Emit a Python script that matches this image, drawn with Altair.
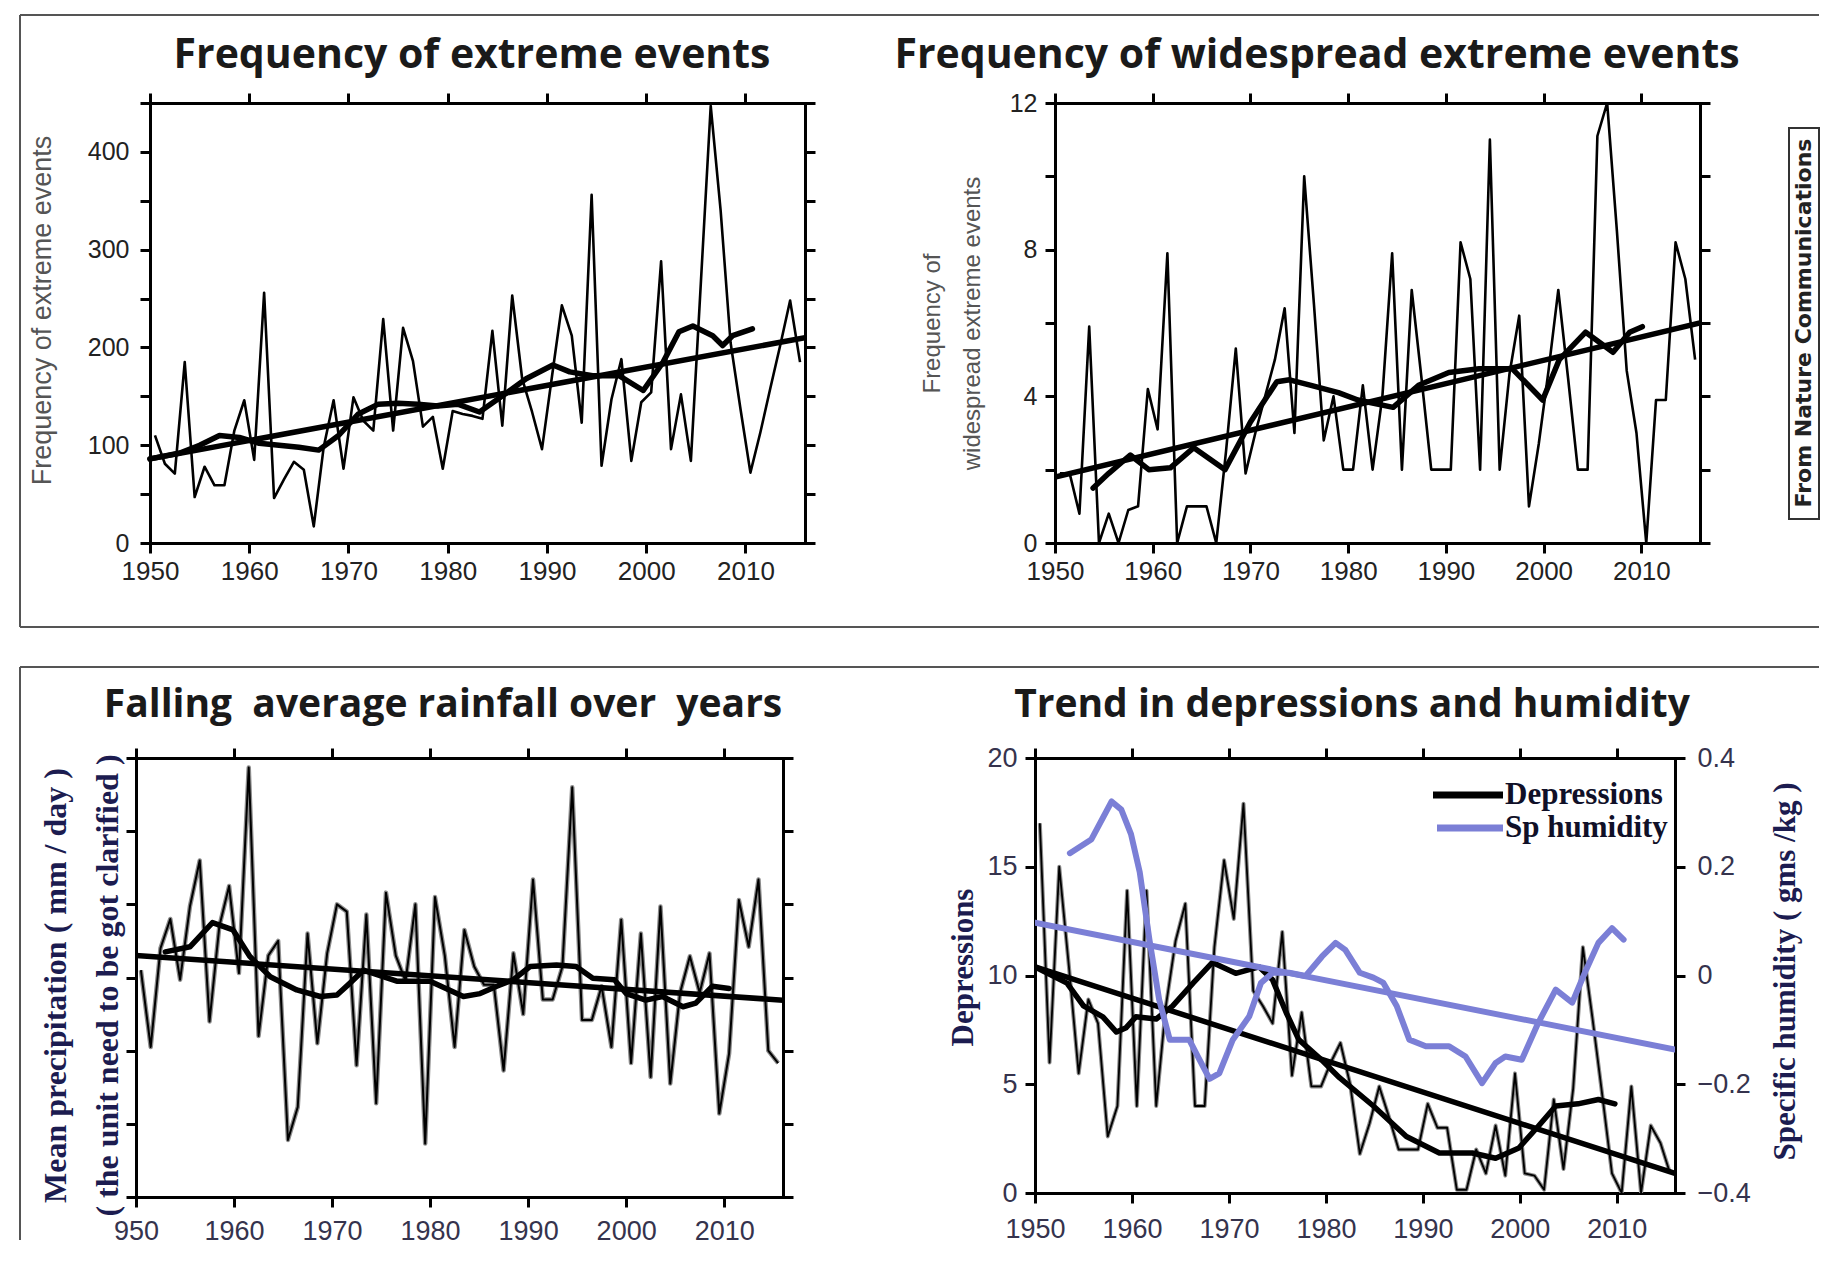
import altair as alt
import pandas as pd

# ---------------- shared values ----------------
YEARS = list(range(1950, 2016))
DECADES = [1950, 1960, 1970, 1980, 1990, 2000, 2010]
X_DOMAIN = [1950, 2016]

TITLES = [
    "Frequency of extreme events",
    "Frequency of widespread extreme events",
    "Falling \u00a0average rainfall over \u00a0years",
    "Trend in depressions and humidity",
]
SOURCE_NOTE = "From Nature Communications"
P1_YTITLE = "Frequency of extreme events"
P2_YTITLE = ["Frequency of", "widespread extreme events"]
P3_YTITLE = ["Mean precipitation ( mm / day )", "( the unit need to be got clarified )"]
P4_YTITLE_L = "Depressions"
P4_YTITLE_R = "Specific humidity ( gms /kg )"
LEGEND_LABELS = ["Depressions", "Sp humidity"]

# ---------------- panel 1: frequency of extreme events ----------------
p1_raw = [110, 81, 71, 185, 47, 78, 59, 59, 115, 146,
          85, 256, 46, 65, 83, 75, 17, 98, 146, 76,
          149, 125, 115, 229, 115, 220, 186, 119, 129, 76,
          135, 132, 130, 127, 217, 120, 253, 168, 134, 96,
          170, 243, 212, 123, 356, 79, 147, 188, 84, 144,
          154, 288, 96, 152, 84, 265, 447, 340, 205, 137,
          72, 113, 158, 202, 248, 185]
p1_smooth_x = [1950, 1953, 1955, 1957, 1959, 1961, 1963, 1965, 1967, 1969, 1971, 1973,
               1975, 1977, 1979, 1981, 1983.2, 1985.6, 1987.9, 1990.6, 1992.3, 1994.6,
               1997.3, 1999.7, 2001.7, 2003.3, 2004.7, 2006.7, 2007.7, 2008.7, 2010.7]
p1_smooth_y = [86, 92, 100, 110, 108, 102, 100, 98, 95, 110, 132, 142,
               143, 142, 140, 142, 134, 151, 168, 182, 175, 171,
               171, 156, 185, 216, 222, 212, 202, 212, 219]
p1_trend_x = [1950, 2016]
p1_trend_y = [86, 210]
P1_YTICKS = list(range(0, 451, 50))

# ---------------- panel 2: widespread extreme events ----------------
p2_raw = [1.9, 1.9, 0.8, 5.9, 0, 0.8, 0, 0.9, 1.0, 4.2,
          3.1, 7.9, 0, 1.0, 1.0, 1.0, 0, 2.5, 5.3, 1.9,
          3.0, 4.0, 5.0, 6.4, 3.0, 10.0, 6.5, 2.8, 4.0, 2.0,
          2.0, 4.3, 2.0, 4.0, 7.9, 2.0, 6.9, 4.5, 2.0, 2.0,
          2.0, 8.2, 7.2, 2.0, 11.0, 2.0, 4.6, 6.2, 1.0, 2.7,
          4.7, 6.9, 4.5, 2.0, 2.0, 11.1, 12.0, 8.5, 4.7, 3.0,
          0, 3.9, 3.9, 8.2, 7.2, 5.0]
p2_smooth_x = [1953.9, 1955.5, 1957.7, 1959.6, 1961.8, 1964.2, 1967.4, 1970, 1972.7, 1974,
               1976.2, 1979, 1981, 1984.6, 1987.2, 1990.3, 1993.4, 1996.8, 1999.9, 2001.6,
               2004.3, 2007.1, 2008.8, 2010.1]
p2_smooth_y = [1.5, 1.9, 2.4, 2.0, 2.05, 2.6, 2.0, 3.3, 4.4, 4.45,
               4.3, 4.1, 3.9, 3.7, 4.3, 4.65, 4.75, 4.75, 3.9, 5.0,
               5.75, 5.2, 5.75, 5.9]
p2_trend_x = [1950, 2016]
p2_trend_y = [1.8, 6.0]
P2_YTICKS = list(range(0, 13, 2))

# ---------------- panel 3: mean rainfall ----------------
p3_raw = [3.1, 2.05, 3.4, 3.8, 2.97, 3.97, 4.6, 2.4, 3.7, 4.25,
          3.06, 5.87, 2.2, 3.3, 3.5, 0.78, 1.23, 3.6, 2.1, 3.33,
          4.0, 3.9, 1.8, 3.86, 1.28, 4.16, 3.3, 2.95, 4.0, 0.73,
          4.1, 3.3, 2.05, 3.65, 3.15, 2.9, 2.9, 1.73, 3.33, 2.5,
          4.34, 2.7, 2.7, 3.15, 5.6, 2.42, 2.42, 2.88, 2.05, 3.79,
          1.83, 3.6, 1.64, 3.97, 1.55, 2.79, 3.29, 2.79, 3.33, 1.14,
          1.96, 4.06, 3.42, 4.34, 2.0, 1.83]
p3_smooth_x = [1953, 1955.5, 1957.8, 1959.9, 1961.6, 1963.7, 1966.4, 1968.8, 1970.5, 1971.8,
               1973.2, 1976.6, 1980, 1983.4, 1985.1, 1986.8, 1988.5, 1990.2, 1992.9, 1994.9,
               1996.6, 1998.8, 2000, 2002, 2003.7, 2005.8, 2007.1, 2008.8, 2010.5]
p3_smooth_y = [3.35, 3.42, 3.75, 3.65, 3.29, 3.01, 2.83, 2.74, 2.76, 2.92,
               3.1, 2.95, 2.95, 2.74, 2.78, 2.88, 2.97, 3.15, 3.17, 3.15,
               2.99, 2.97, 2.78, 2.69, 2.74, 2.6, 2.65, 2.88, 2.85]
p3_trend_x = [1950, 2016]
p3_trend_y = [3.3, 2.69]
P3_YTICKS = [0, 1, 2, 3, 4, 5, 6]

# ---------------- panel 4: depressions and humidity ----------------
p4_dep_raw = [17.0, 6.0, 15.0, 10.4, 5.5, 8.9, 7.8, 2.6, 4.0, 13.9,
              4.0, 13.9, 4.0, 8.6, 11.6, 13.3, 4.0, 4.0, 11.3, 15.3,
              12.6, 17.9, 9.3, 8.6, 7.8, 12.0, 5.4, 8.3, 4.9, 4.9,
              6.0, 6.9, 5.0, 1.8, 3.2, 4.9, 3.5, 2.0, 2.0, 2.0,
              4.1, 3.0, 3.0, 0.15, 0.15, 2.0, 0.9, 3.1, 0.8, 5.5,
              0.9, 0.8, 0.15, 4.3, 1.1, 4.8, 11.3, 8.0, 4.5, 0.9,
              0, 4.9, 0, 3.1, 2.3, 0.9]
p4_dep_smooth_x = [1950, 1953.3, 1955, 1957, 1958.4, 1959.4, 1960.4, 1962.5, 1964.2, 1966.3,
                   1968.3, 1970.7, 1973.1, 1974.5, 1975.9, 1977.2, 1979.6, 1981.4, 1984.9, 1988.3,
                   1991.7, 1995.1, 1997.5, 1999.9, 2001.9, 2003.7, 2006, 2008.1, 2009.8]
p4_dep_smooth_y = [10.4, 9.65, 8.6, 8.1, 7.4, 7.6, 8.1, 8.0, 8.6, 9.65,
                   10.6, 10.1, 10.4, 9.8, 8.3, 7.05, 6.1, 5.3, 4.0, 2.6,
                   1.84, 1.84, 1.6, 2.07, 3.07, 4.0, 4.1, 4.3, 4.1]
p4_dep_trend_x = [1950, 2016]
p4_dep_trend_y = [10.4, 0.9]
p4_hum_smooth_x = [1953.6, 1955.8, 1957.9, 1958.9, 1959.9, 1960.8, 1961.8, 1962.8, 1963.9, 1965.9,
                   1966.8, 1968, 1969, 1970.4, 1972.1, 1973.3, 1974.5, 1976.2, 1977.9, 1979.6,
                   1981, 1982, 1983.5, 1984.9, 1985.9, 1987.3, 1988.6, 1990.3, 1992.7, 1994.4,
                   1996.1, 1997.5, 1998.5, 2000.2, 2001.9, 2003.7, 2005.4, 2006.7, 2008.1, 2009.5,
                   2010.7]
p4_hum_smooth_y = [0.225, 0.25, 0.32, 0.305, 0.26, 0.19, 0.066, -0.044, -0.118, -0.118,
                   -0.149, -0.19, -0.18, -0.118, -0.075, -0.014, 0.005, 0.005, -0.001, 0.035,
                   0.06, 0.047, 0.005, -0.004, -0.013, -0.056, -0.118, -0.13, -0.13, -0.149,
                   -0.198, -0.161, -0.149, -0.155, -0.087, -0.026, -0.05, 0.005, 0.06, 0.087,
                   0.066]
p4_hum_trend_x = [1950, 2016]
p4_hum_trend_y = [0.097, -0.136]
P4_YTICKS_L = [0, 5, 10, 15, 20]
P4_YTICKS_R = [-0.4, -0.2, 0, 0.2, 0.4]

# ---------------- style ----------------
SANS = "Liberation Sans"
SERIF = "Liberation Serif"
TITLE_FONT = "Open Sans"
BLUE = "#7b7fd6"
NAVY = "#1c1c50"
TOP_LBL = "#222222"
BOT_LBL = "#35334d"
FRAME = "#555555"

BASE_AX = dict(domainColor="black", domainWidth=3, domainCap="square",
               tickColor="black", tickWidth=3, tickSize=10, grid=False,
               labelFlush=False, labelOverlap=False)

ANCHOR = pd.DataFrame({"k": [0]})


def xs(rng=None):
    if rng is None:
        return alt.Scale(domain=X_DOMAIN, nice=False, zero=False)
    return alt.Scale(domain=X_DOMAIN, nice=False, zero=False, range=rng)


def ys(d):
    return alt.Scale(domain=d, nice=False, zero=False)


def ax_bottom(size, color, pad, expr=None):
    kw = dict(BASE_AX, orient="bottom", values=DECADES, format="d", title=None,
              labelFont=SANS, labelFontSize=size, labelColor=color, labelPadding=pad)
    if expr is not None:
        kw["labelExpr"] = expr
    return alt.Axis(**kw)


def ax_top():
    return alt.Axis(**BASE_AX, orient="top", values=DECADES, labels=False, title=None)


def ax_side(orient, values, **kw):
    d = dict(BASE_AX, orient=orient, values=values)
    d.update(kw)
    return alt.Axis(**d)


def df_years(vals):
    return pd.DataFrame({"year": YEARS, "value": vals})


def df_pts(xv, yv):
    return pd.DataFrame({"year": xv, "value": yv})


def raw_line(df, ydom, xaxis=None, yaxis=None, color="black", width=2.6, rng=None):
    return (alt.Chart(df).transform_calculate(pos="datum.year + 0.5")
            .mark_line(color=color, strokeWidth=width, clip=True, strokeJoin="round")
            .encode(x=alt.X("pos:Q", scale=xs(rng), axis=xaxis),
                    y=alt.Y("value:Q", scale=ys(ydom), axis=yaxis)))


def thick_line(df, ydom, xaxis=None, yaxis=None, color="black", width=5.5, rng=None):
    return (alt.Chart(df)
            .mark_line(color=color, strokeWidth=width, clip=True, strokeJoin="round", strokeCap="round")
            .encode(x=alt.X("year:Q", scale=xs(rng), axis=xaxis),
                    y=alt.Y("value:Q", scale=ys(ydom), axis=yaxis)))


def hrule(x1, x2, y, color=FRAME, w=2):
    return alt.Chart(ANCHOR).mark_rule(color=color, strokeWidth=w).encode(
        x=alt.value(x1), x2=alt.value(x2), y=alt.value(y))


def vrule(x, y1, y2, color=FRAME, w=2):
    return alt.Chart(ANCHOR).mark_rule(color=color, strokeWidth=w).encode(
        x=alt.value(x), y=alt.value(y1), y2=alt.value(y2))


def text_at(txt, x, y, **kw):
    return alt.Chart(ANCHOR).mark_text(text=txt, **kw).encode(x=alt.value(x), y=alt.value(y))


def title_at(txt, x, y, size):
    return text_at(txt, x, y, font=TITLE_FONT, fontSize=size, fontWeight="bold",
                   color="#1a1a1a", align="center", baseline="alphabetic")


# ---------------- panel 1 (plot area inset 14px inside its view) ----------------
D1 = [0, 450]
R1 = [14, 669]
p1 = alt.layer(
    raw_line(df_years(p1_raw), D1, rng=R1,
             xaxis=ax_bottom(26, TOP_LBL, 5),
             yaxis=ax_side("left", P1_YTICKS, offset=-14,
                           labelExpr="datum.value % 100 == 0 ? datum.label : ''",
                           labelFont=SANS, labelFontSize=25, labelColor=TOP_LBL, labelPadding=11,
                           title=P1_YTITLE, titleFont=SANS, titleFontSize=27, titleFontWeight="normal",
                           titleColor="#555555", titleAngle=270, titleX=-108, titleY=207,
                           titleAlign="center", titleBaseline="middle")),
    thick_line(df_pts(p1_smooth_x, p1_smooth_y), D1, rng=R1,
               xaxis=ax_top(), yaxis=ax_side("right", P1_YTICKS, labels=False, title=None)),
    thick_line(df_pts(p1_trend_x, p1_trend_y), D1, rng=R1),
    hrule(-116, 1683, -88),
    vrule(-116, -88, 524),
    hrule(-116, 1683, 524),
    title_at(TITLES[0], 336, -35, 41),
).resolve_scale(x="independent", y="independent").properties(width=669, height=440)

# ---------------- panel 2 ----------------
D2 = [0, 12]
p2 = alt.layer(
    raw_line(df_years(p2_raw), D2,
             xaxis=ax_bottom(26, TOP_LBL, 5),
             yaxis=ax_side("left", P2_YTICKS,
                           labelExpr="datum.value % 4 == 0 ? datum.label : ''",
                           labelFont=SANS, labelFontSize=25, labelColor=TOP_LBL, labelPadding=8,
                           title=P2_YTITLE, titleFont=SANS, titleFontSize=24, titleFontWeight="normal",
                           titleColor="#555555", titleAngle=270, titleX=-123, titleY=220,
                           titleAlign="center", titleBaseline="middle", titleLineHeight=40)),
    thick_line(df_pts(p2_smooth_x, p2_smooth_y), D2,
               xaxis=ax_top(), yaxis=ax_side("right", P2_YTICKS, labels=False, title=None)),
    thick_line(df_pts(p2_trend_x, p2_trend_y), D2),
    alt.Chart(ANCHOR).mark_rect(fill="white", stroke="#333333", strokeWidth=2).encode(
        x=alt.value(734), x2=alt.value(764), y=alt.value(25), y2=alt.value(416)),
    text_at(SOURCE_NOTE, 749, 220, font="DejaVu Sans", fontSize=22, fontWeight="bold",
            color="#222222", angle=270, align="center", baseline="middle"),
    title_at(TITLES[1], 262, -35, 41),
).resolve_scale(x="independent", y="independent").properties(width=645, height=440)

# ---------------- panel 3 ----------------
D3 = [0, 6]
p3 = alt.layer(
    raw_line(df_years(p3_raw), D3, color="#8c8c8c", width=4.5,
             xaxis=ax_bottom(27, BOT_LBL, 11, expr="datum.value == 1950 ? '950' : datum.label"),
             yaxis=ax_side("left", P3_YTICKS, labels=False,
                           title=P3_YTITLE, titleFont=SERIF, titleFontSize=32, titleFontWeight="bold",
                           titleColor=NAVY, titleAngle=270, titleX=-81, titleY=227,
                           titleAlign="center", titleBaseline="middle", titleLineHeight=52)),
    raw_line(df_years(p3_raw), D3, color="black", width=2),
    thick_line(df_pts(p3_smooth_x, p3_smooth_y), D3,
               xaxis=ax_top(), yaxis=ax_side("right", P3_YTICKS, labels=False, title=None)),
    thick_line(df_pts(p3_trend_x, p3_trend_y), D3),
    hrule(-116, 1683, -91),
    vrule(-116, -91, 482),
    title_at(TITLES[2], 307, -41, 39),
).resolve_scale(x="independent", y="independent").properties(width=647, height=439)

# ---------------- panel 4 ----------------
D4 = [0, 20]
DH = [-0.4, 0.4]
p4 = alt.layer(
    raw_line(df_years(p4_dep_raw), D4, color="#8c8c8c", width=4,
             xaxis=ax_bottom(27, BOT_LBL, 13),
             yaxis=ax_side("left", P4_YTICKS_L,
                           labelFont=SANS, labelFontSize=27, labelColor=BOT_LBL, labelPadding=8,
                           title=P4_YTITLE_L, titleFont=SERIF, titleFontSize=31, titleFontWeight="bold",
                           titleColor=NAVY, titleAngle=270, titleX=-72, titleY=209,
                           titleAlign="center", titleBaseline="middle")),
    raw_line(df_years(p4_dep_raw), D4, color="black", width=1.8),
    thick_line(df_pts(p4_dep_smooth_x, p4_dep_smooth_y), D4, xaxis=ax_top()),
    thick_line(df_pts(p4_dep_trend_x, p4_dep_trend_y), D4),
    thick_line(df_pts(p4_hum_smooth_x, p4_hum_smooth_y), DH, color=BLUE, width=6,
               yaxis=ax_side("right", P4_YTICKS_R, format=".1~f",
                             labelFont=SANS, labelFontSize=27, labelColor=BOT_LBL, labelPadding=12,
                             title=P4_YTITLE_R, titleFont=SERIF, titleFontSize=31, titleFontWeight="bold",
                             titleColor=NAVY, titleAngle=270, titleX=110, titleY=213,
                             titleAlign="center", titleBaseline="middle")),
    thick_line(df_pts(p4_hum_trend_x, p4_hum_trend_y), DH, color=BLUE, width=6),
    hrule(398, 468, 37, color="black", w=7),
    text_at(LEGEND_LABELS[0], 470, 37, font=SERIF, fontSize=31, fontWeight="bold",
            color="#101028", align="left", baseline="middle"),
    hrule(402, 468, 70, color=BLUE, w=7),
    text_at(LEGEND_LABELS[1], 470, 70, font=SERIF, fontSize=31, fontWeight="bold",
            color="#101028", align="left", baseline="middle"),
    title_at(TITLES[3], 317, -41, 39),
).resolve_scale(x="independent", y="independent").properties(width=640, height=435)

row1 = alt.hconcat(p1, p2, spacing=250, bounds="flush")
row2 = alt.hconcat(p3, p4, spacing=252, bounds="flush")

chart = (alt.vconcat(row1, row2, spacing=38)
         .properties(padding={"left": 11, "top": 6, "right": 0, "bottom": 0}, background="white")
         .configure_view(stroke=None))

chart.save("out.html", embed_options={"renderer": "svg", "actions": False})
